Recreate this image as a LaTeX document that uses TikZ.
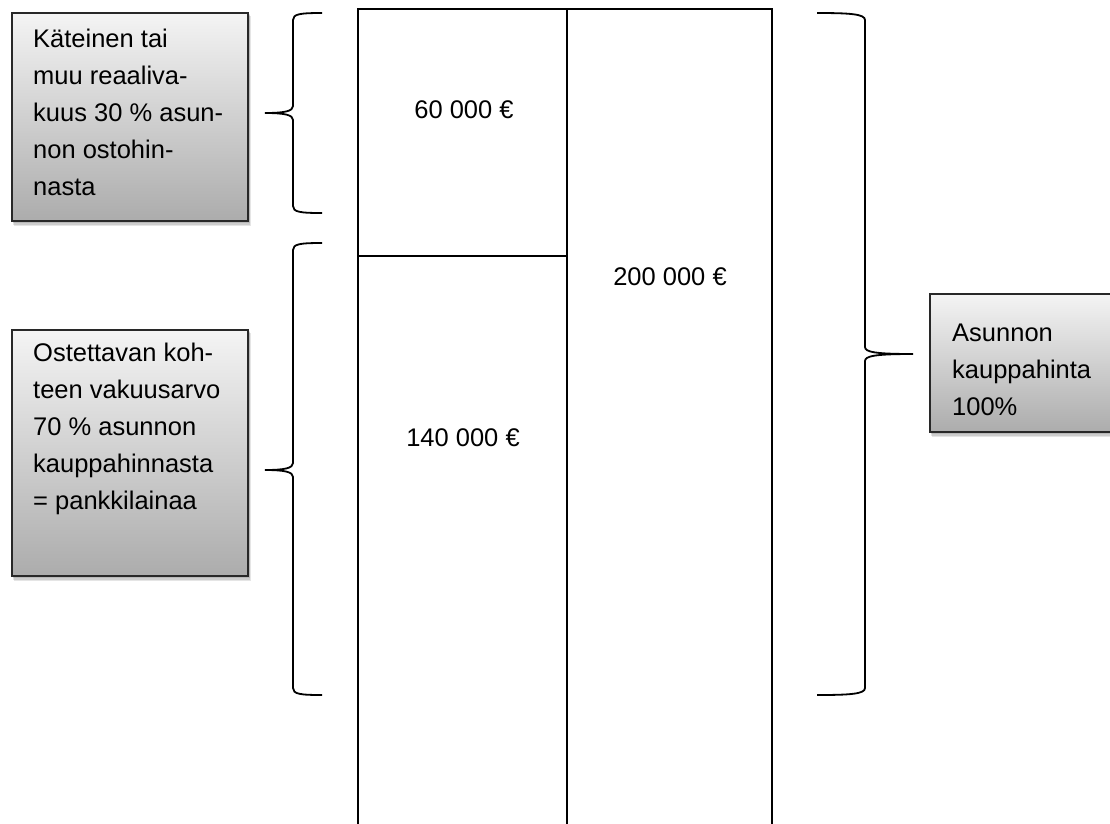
\documentclass[tikz,border=0pt]{standalone}
\usepackage{fontspec}
\setmainfont{Liberation Sans}
\definecolor{boxtop}{RGB}{244,244,244}
\definecolor{boxbot}{RGB}{172,172,172}
\definecolor{boxline}{RGB}{40,40,40}
\newcommand\boxfont{\fontsize{25.5}{37}\selectfont}
\begin{document}
\begin{tikzpicture}[x=1pt,y=-1pt,
  infobox/.style={draw=boxline, line width=1.6pt, top color=boxtop, bottom color=boxbot},
  shade1/.style={fill=black, opacity=0.10},
  boxtext/.style={anchor=north west, inner sep=0pt, align=left, font=\boxfont},
  cell/.style={inner sep=0pt, font=\boxfont},
  tab/.style={line width=2.8pt, line cap=rect},
  brace/.style={line width=1.8pt}]
\useasboundingbox (0,0) rectangle (1110,823);
\clip (0,0) rectangle (1110,823);
\fill[white] (0,0) rectangle (1110,823);

% shadows
\foreach \bx/\by/\ex/\ey in {12/13/248/221, 12/330/248/576, 930/294/1130/432}{
  \fill[shade1] (\bx+2,\by+3) rectangle (\ex+3,\ey+5);
  \fill[shade1] (\bx+1,\by+2) rectangle (\ex+2,\ey+3.5);
  \fill[shade1] (\bx+1,\by+1) rectangle (\ex+1.5,\ey+2);
}

% boxes
\path[infobox] (12,13) rectangle (248,221);
\path[infobox] (12,330) rectangle (248,576);
\path[infobox] (930,294) rectangle (1130,432);

\node[boxtext] (t1) at (33,29) {Käteinen tai\\muu reaaliva-\\kuus 30 \% asun-\\non ostohin-\\nasta};
\node[boxtext] (t2) at (33,343) {Ostettavan koh-\\teen vakuusarvo\\70 \% asunnon\\kauppahinnasta\\= pankkilainaa};
\node[boxtext] (t3) at (952,324) {Asunnon\\kauppahinta\\100\%};

% table
\coordinate (tl) at (358,9);
\coordinate (tm) at (567,9);
\coordinate (tr) at (772,9);
\draw[tab] (tl) -- (tr);
\draw[tab] (tl) -- (358,840);
\draw[tab] (tm) -- (567,840);
\draw[tab] (tr) -- (772,840);
\draw[tab] (358,256) -- (567,256);

\node[cell] (c1) at (464,110) {60 000 €};
\node[cell] (c2) at (670,277) {200 000 €};
\node[cell] (c3) at (463,438) {140 000 €};

% braces
\draw[brace] (322,13) .. controls (300,13) and (293,14) .. (293,20)
  -- (293,106) .. controls (293,111) and (285,113) .. (265,113)
  .. controls (285,113) and (293,115) .. (293,120)
  -- (293,206) .. controls (293,212) and (300,213) .. (322,213);
\draw[brace] (322,243) .. controls (300,243) and (293,244) .. (293,250)
  -- (293,463) .. controls (293,468) and (285,470) .. (265,470)
  .. controls (285,470) and (293,472) .. (293,477)
  -- (293,688) .. controls (293,694) and (300,695) .. (322,695);
\draw[brace] (817,13) .. controls (850,13) and (865,14) .. (865,20)
  -- (865,347) .. controls (865,352) and (875,354) .. (913,354)
  .. controls (875,354) and (865,356) .. (865,361)
  -- (865,688) .. controls (865,694) and (850,695) .. (817,695);
\end{tikzpicture}
\end{document}
